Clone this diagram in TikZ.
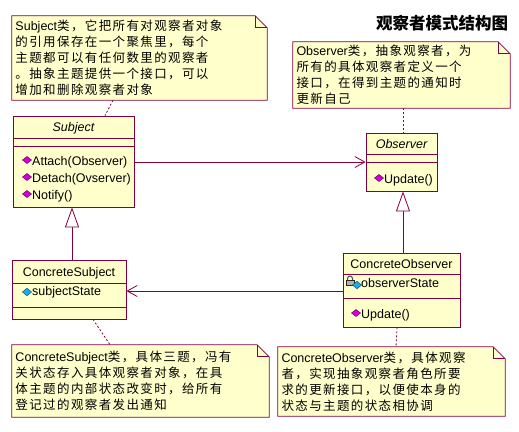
\documentclass[tikz,border=0pt]{standalone}
\usepackage{fontspec}
\setmainfont{Liberation Sans}
\newfontfamily\cjk{Noto Sans CJK SC}[LetterSpace=11]
\newfontfamily\titlefont{Noto Sans CJK SC}
\usepackage{tikz}
\usetikzlibrary{arrows.meta, positioning, calc}

\definecolor{rosered}{RGB}{128,0,64}
\definecolor{noteyellow}{RGB}{255,255,204}
\definecolor{opmagenta}{RGB}{210,0,210}
\definecolor{attcyan}{RGB}{30,170,235}

\pgfdeclarelayer{background}
\pgfsetlayers{background,main}

\tikzset{
  classbox/.style={draw=rosered, fill=noteyellow, line width=0.8pt, inner sep=0pt},
  classname/.style={inner sep=0pt, font=\fontsize{12.5}{14}\selectfont},
  member/.style={anchor=west, inner sep=0pt, font=\fontsize{12.5}{14}\selectfont},
  note/.style={inner xsep=3.5pt, inner ysep=0pt, align=left, font=\fontsize{12.5}{16}\selectfont},
  noteline/.style={draw=rosered, fill=noteyellow, line width=0.8pt},
  compline/.style={draw=rosered, line width=0.8pt},
  assoc/.style={draw=rosered, line width=0.8pt, -{Straight Barb[length=10pt, width=11pt]}},
  inherit/.style={draw=rosered, line width=0.8pt, -{Triangle[fill=white, length=20pt, width=14pt]}},
  notelink/.style={draw=rosered, line width=0.8pt, dash pattern=on 2pt off 2pt},
  opicon/.pic={\filldraw[fill=opmagenta, draw=opmagenta!55!black, line width=0.5pt] (-4.5,0) -- (0,-3.5) -- (4.5,0) -- (0,3.5) -- cycle;},
  atticon/.pic={\filldraw[fill=attcyan, draw=attcyan!50!black, line width=0.5pt] (-4.5,0) -- (0,-3.8) -- (4.5,0) -- (0,3.8) -- cycle;},
  lockicon/.pic={
    \draw[gray!60!black, line width=1pt] (-2.5,-1) -- (-2.5,-2.5) arc(180:360:2.5) -- (2.5,-1);
    \filldraw[fill=gray!60, draw=gray!30!black, line width=0.5pt] (-4,-1) rectangle (4,4);}
}

% note with a folded corner
\newcommand{\notefold}[1]{%
  \begin{pgfonlayer}{background}
    \path[noteline] (#1.north west) -- ($(#1.north east)+(-12,0)$) -- ($(#1.north east)+(0,12)$)
      -- (#1.south east) -- (#1.south west) -- cycle;
    \draw[rosered, line width=0.8pt] ($(#1.north east)+(-12,0)$) |- ($(#1.north east)+(0,12)$);
  \end{pgfonlayer}}

\begin{document}
\begin{tikzpicture}[x=1pt, y=-1pt]
  \useasboundingbox (0,0) rectangle (519,431);

  % title
  \node[inner sep=0pt, font=\titlefont\bfseries\fontsize{16.5}{18}\selectfont] (title) at (442,23) {观察者模式结构图};

  % notes
  \node[note, text width=248, minimum width=255, minimum height=84] (subjnote) at (139.5,58)
    {Subject{\cjk 类，它把所有对观察者对象}\\{\cjk 的引用保存在一个聚焦里，每个}\\{\cjk 主题都可以有任何数里的观察者}\\{\cjk 。抽象主题提供一个接口，可以}\\{\cjk 增加和删除观察者对象}};
  \notefold{subjnote}
  \node[note, text width=210, minimum width=217, minimum height=66] (obsnote) at (401.5,75)
    {Observer{\cjk 类，抽象观察者，为}\\{\cjk 所有的具体观察者定义一个}\\{\cjk 接口，在得到主题的通知时}\\{\cjk 更新自己}};
  \notefold{obsnote}
  \node[note, text width=250, minimum width=257, minimum height=72] (csubjnote) at (140.5,381)
    {ConcreteSubject{\cjk 类，具体三题，冯有}\\{\cjk 关状态存入具体观察者对象，在具}\\{\cjk 体主题的内部状态改变时，给所有}\\{\cjk 登记过的观察者发出通知}};
  \notefold{csubjnote}
  \node[note, text width=220, minimum width=227, minimum height=69] (cobsnote) at (391.5,381.5)
    {ConcreteObserver{\cjk 类，具体观察}\\{\cjk 者，实现抽象观察者角色所要}\\{\cjk 求的更新接口，以便使本身的}\\{\cjk 状态与主题的状态相协调}};
  \notefold{cobsnote}

  % Subject
  \node[classbox, minimum width=121, minimum height=91] (subject) at (73.5,161.5) {};
  \draw[compline] (subject.west |- 0,138) -- (subject.east |- 0,138);
  \draw[compline] (subject.west |- 0,146) -- (subject.east |- 0,146);
  \node[classname, font=\fontsize{12.5}{14}\selectfont\itshape] (subjname) at (73.5,128) {Subject};
  \node[member] (attach) at (32,162) {Attach(Observer)};
  \node[member] (detach) at (32,179) {Detach(Ovserver)};
  \node[member] (notify) at (32,196) {Notify()};
  \foreach \y in {162,179,196} \pic at (27,\y-2) {opicon};

  % Observer
  \node[classbox, minimum width=71, minimum height=58] (observer) at (401.5,162) {};
  \draw[compline] (observer.west |- 0,154) -- (observer.east |- 0,154);
  \draw[compline] (observer.west |- 0,162) -- (observer.east |- 0,162);
  \node[classname, font=\fontsize{12.5}{14}\selectfont\itshape] (obsname) at (401.5,144) {Observer};
  \node[member] (update) at (384,180) {Update()};
  \pic at (379,178) {opicon};

  % ConcreteSubject
  \node[classbox, minimum width=114, minimum height=59] (csubject) at (69,289.5) {};
  \draw[compline] (csubject.west |- 0,283) -- (csubject.east |- 0,283);
  \draw[compline] (csubject.west |- 0,307) -- (csubject.east |- 0,307);
  \node[classname] (csubjname) at (69,273) {ConcreteSubject};
  \node[member] (substate) at (32,292) {subjectState};
  \pic at (27,292) {atticon};

  % ConcreteObserver
  \node[classbox, minimum width=117, minimum height=74] (cobserver) at (401.5,290) {};
  \draw[compline] (cobserver.west |- 0,274) -- (cobserver.east |- 0,274);
  \draw[compline] (cobserver.west |- 0,298) -- (cobserver.east |- 0,298);
  \node[classname] (cobsname) at (401.5,264) {ConcreteObserver};
  \node[member] (obsstate) at (361,283) {observerState};
  \pic at (350,281) {lockicon};
  \pic at (357,285) {atticon};
  \node[member] (coupdate) at (361,315) {Update()};
  \pic at (356,313) {opicon};

  % connectors
  \draw[assoc] (attach -| subject.east) -- (attach -| observer.west);
  \draw[assoc] (cobserver.west |- 0,291) -- (csubject.east |- 0,291);
  \draw[inherit] (csubject.north -| 72,0) -- (subject.south -| 72,0);
  \draw[inherit] (cobserver.north -| 403,0) -- (observer.south -| 403,0);

  % note links
  \draw[notelink] (subjnote.south -| 113,0) -- (subject.north -| 105,0);
  \draw[notelink] (obsnote.south -| 403,0) -- (observer.north -| 403,0);
  \draw[notelink] (csubject.south -| 93,0) -- (csubjnote.north -| 110,0);
  \draw[notelink] (cobserver.south -| 397,0) -- (cobsnote.north -| 396,0);
\end{tikzpicture}
\end{document}
